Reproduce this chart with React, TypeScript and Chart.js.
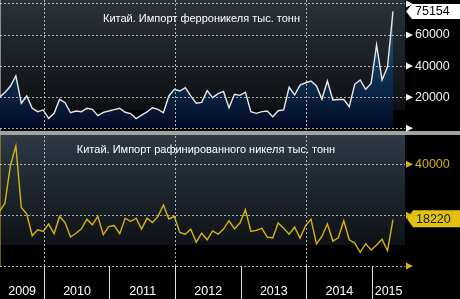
import React, { useEffect, useRef } from 'react';
import { Chart, registerables } from 'chart.js';

Chart.register(...registerables);

const FONT = '"Liberation Sans", Arial, sans-serif';

// ---- data ----
const firstMonth = '2009-04';
const years = ['2009', '2010', '2011', '2012', '2013', '2014', '2015'];
const ferroTitle = 'Китай. Импорт ферроникеля тыс. тонн';
const refinedTitle = 'Китай. Импорт рафинированного никеля тыс. тонн';

const ferroNickel = [
  20000, 23000, 27000, 33800, 16100, 20800, 12900, 10700, 11800,
  6400, 9600, 18600, 16500, 10000, 11100, 10700, 12900, 12200, 8100, 10300, 11100,
  12000, 12900, 10300, 9500, 6300, 8500, 10500, 13200, 12200, 10000, 20800, 25100,
  24000, 26100, 20800, 16100, 16700, 24200, 19700, 22300, 23700, 13200, 21900, 21200,
  23200, 10700, 9600, 10700, 11100, 7500, 11300, 11800, 26400, 21400, 27800, 29300,
  30400, 27200, 18800, 30400, 18200, 18500, 18500, 13900, 28300, 31100, 25100, 28900,
  53600, 31100, 39600, 75154,
];

const refinedNickel = [
  21400, 24700, 39500, 47200, 23000, 20400, 11900, 14200, 13600,
  16500, 12700, 19500, 17100, 11400, 12900, 14600, 18400, 16200, 19500, 12300, 15500,
  15900, 12700, 18800, 17500, 18800, 14500, 18800, 17100, 19500, 24000, 18500, 19500,
  13200, 12500, 14500, 9400, 12900, 10300, 13800, 12500, 14500, 17800, 14600, 16900,
  22100, 13600, 14000, 14800, 11400, 11000, 16900, 14900, 12500, 15300, 11000, 15800,
  18400, 8700, 11600, 16500, 9800, 11100, 17800, 10300, 9000, 5400, 8700, 6300,
  8300, 10500, 6000, 18220,
];

const ferroTicks = [0, 10000, 20000, 30000, 40000, 50000, 60000, 70000, 80000];
const ferroLabelled = [20000, 40000, 60000];
const ferroMajor = [0, 20000, 40000, 60000, 80000];
const refinedTicks = [0, 10000, 20000, 30000, 40000, 50000];
const refinedLabelled = [40000];
const refinedMajor = [0, 20000, 40000];
const dashedYears = ['2010', '2012', '2014'];

// view window in months since Jan 2009
const viewStart = 3.9;
const viewEnd = 78;
const PLOT_DAY = 25; // monthly values are plotted on the 25th

const [startYear, startMonth] = firstMonth.split('-').map(Number);
const monthT = (i: number) => (startYear - 2009) * 12 + (startMonth - 1) + i + (PLOT_DAY - 1) / 30;
const yearT = (y: string) => (Number(y) - 2009) * 12;

const boundaries = years.slice(1).map(yearT);
const dashedT = dashedYears.map(yearT);
const centreLabels = new Map<number, string>();
years.forEach((y) => {
  const s = Math.max(yearT(y), viewStart);
  const e = Math.min(yearT(y) + 12, viewEnd);
  centreLabels.set((s + e) / 2, y);
});

const GRID = 'rgba(205,205,205,0.85)';
const WHITE = '#f2f2f2';
const YELLOW = '#d6b212';

const noPad = (s: any) => {
  s.paddingTop = 0;
  s.paddingBottom = 0;
  s.paddingLeft = 0;
  s.paddingRight = 0;
};

function drawBox(ctx: CanvasRenderingContext2D, x: number, y: number, h: number, fill: string, color: string, text: string, w: number) {
  ctx.beginPath();
  ctx.moveTo(x, y);
  ctx.lineTo(x + 6, y - h / 2);
  ctx.lineTo(w, y - h / 2);
  ctx.lineTo(w, y + h / 2);
  ctx.lineTo(x + 6, y + h / 2);
  ctx.closePath();
  ctx.fillStyle = fill;
  ctx.fill();
  ctx.fillStyle = color;
  ctx.font = `12.5px ${FONT}`;
  ctx.textAlign = 'left';
  ctx.textBaseline = 'middle';
  ctx.fillText(text, x + 9, y + 0.5);
}

const panelPlugin = {
  id: 'panels',
  beforeDraw(chart: any) {
    const { ctx, width, height, chartArea } = chart;
    const yt = chart.scales.yTop;
    const yb = chart.scales.yBottom;
    ctx.save();
    ctx.fillStyle = '#000';
    ctx.fillRect(0, 0, width, height);
    const w = chartArea.right - chartArea.left;
    const g1 = ctx.createLinearGradient(0, yt.top, 0, yt.top + 110);
    g1.addColorStop(0, '#2b3239');
    g1.addColorStop(1, '#0d1013');
    ctx.fillStyle = g1;
    ctx.fillRect(chartArea.left, yt.top, w, 110);
    const g2 = ctx.createLinearGradient(0, yb.top, 0, yb.top + 112);
    g2.addColorStop(0, '#2e3a46');
    g2.addColorStop(1, '#0e1216');
    ctx.fillStyle = g2;
    ctx.fillRect(chartArea.left, yb.top, w, 112);
    ctx.restore();
  },
  afterDraw(chart: any) {
    const { ctx, width, chartArea } = chart;
    const yt = chart.scales.yTop;
    const yb = chart.scales.yBottom;
    ctx.save();
    // separator band
    ctx.fillStyle = '#a3a3a3';
    ctx.fillRect(0, yt.bottom - 2, width, 4);
    // titles
    ctx.fillStyle = '#ffffff';
    ctx.font = `11px ${FONT}`;
    ctx.textAlign = 'center';
    ctx.textBaseline = 'middle';
    const cx = (chartArea.left + chartArea.right) / 2;
    ctx.fillText(ferroTitle, cx - 1, yt.top + 19);
    ctx.fillText(refinedTitle, cx + 3.5, yb.top + 17);
    // major tick arrows
    const arrows = (scale: any, vals: number[], color: string) => {
      ctx.fillStyle = color;
      vals.forEach((v) => {
        const y = scale.getPixelForValue(v);
        ctx.beginPath();
        ctx.moveTo(chartArea.right + 1, y - 3.5);
        ctx.lineTo(chartArea.right + 8, y);
        ctx.lineTo(chartArea.right + 1, y + 3.5);
        ctx.closePath();
        ctx.fill();
      });
    };
    arrows(yt, ferroMajor, WHITE);
    arrows(yb, refinedMajor, YELLOW);
    // last value boxes
    const lastF = ferroNickel[ferroNickel.length - 1];
    const lastR = refinedNickel[refinedNickel.length - 1];
    drawBox(ctx, chartArea.right + 1, yt.getPixelForValue(lastF), 15, '#ffffff', '#000000', String(lastF), width);
    drawBox(ctx, chartArea.right + 2, yb.getPixelForValue(lastR) - 1, 17, '#e4c010', '#102008', String(lastR), width);
    ctx.restore();
  },
};

export default function App() {
  const ref = useRef<HTMLCanvasElement | null>(null);
  useEffect(() => {
    if (!ref.current) return;
    const chart = new Chart(ref.current, {
      type: 'line',
      data: {
        datasets: [
          {
            data: ferroNickel.map((v, i) => ({ x: monthT(i), y: v })),
            yAxisID: 'yTop',
            borderColor: '#e8e8e8',
            borderWidth: 1.4,
            pointRadius: 0,
            tension: 0,
            fill: 'origin',
            backgroundColor: (c: any) => {
              const s = c.chart.scales.yTop;
              if (!s) return '#0a2a48';
              const y1 = s.getPixelForValue(80000);
              const y2 = s.getPixelForValue(0);
              if (!Number.isFinite(y1) || !Number.isFinite(y2) || y1 === y2) return '#0a2a48';
              const g = c.chart.ctx.createLinearGradient(0, y1, 0, y2);
              g.addColorStop(0, '#2a6d95');
              g.addColorStop(0.5, '#10395a');
              g.addColorStop(1, '#020a25');
              return g;
            },
          },
          {
            data: refinedNickel.map((v, i) => ({ x: monthT(i), y: v })),
            yAxisID: 'yBottom',
            borderColor: YELLOW,
            borderWidth: 1.4,
            pointRadius: 0,
            tension: 0,
            fill: false,
          },
        ],
      },
      options: {
        animation: false,
        responsive: false,
        layout: { padding: 0 },
        plugins: { legend: { display: false }, tooltip: { enabled: false } },
        scales: {
          x: {
            type: 'linear',
            min: viewStart,
            max: viewEnd,
            afterBuildTicks: (s: any) => {
              const vals = [...boundaries, ...centreLabels.keys()].sort((a, b) => a - b);
              s.ticks = vals.map((v) => ({ value: v }));
            },
            afterFit: (s: any) => {
              s.height = 33;
              noPad(s);
            },
            ticks: {
              autoSkip: false,
              maxRotation: 0,
              color: '#ffffff',
              font: { family: FONT, size: 12.5 },
              padding: -14.5,
              callback: (v: any) => centreLabels.get(Number(v)) || '',
            },
            grid: {
              z: 1,
              color: (c: any) => (c.tick && dashedT.includes(c.tick.value) ? GRID : 'transparent'),
              tickColor: (c: any) => (c.tick && boundaries.includes(c.tick.value) ? '#e0e0e0' : 'transparent'),
              tickLength: 33,
            },
            border: { display: false, dash: [2, 2] },
          },
          yTop: {
            type: 'linear',
            position: 'right',
            stack: 'panels',
            stackWeight: 1,
            min: -3020,
            max: 82510,
            afterBuildTicks: (s: any) => {
              s.ticks = ferroTicks.map((v) => ({ value: v }));
            },
            afterFit: (s: any) => {
              s.width = 55;
              noPad(s);
            },
            ticks: {
              color: WHITE,
              font: { family: FONT, size: 12.5 },
              padding: 4,
              callback: (v: any) => (ferroLabelled.includes(Number(v)) ? String(v) : ''),
            },
            grid: {
              z: 1,
              color: (c: any) => (c.tick && ferroMajor.includes(c.tick.value) ? GRID : 'transparent'),
              tickColor: WHITE,
              tickLength: 6,
            },
            border: { display: true, color: WHITE, dash: [2, 2] },
          },
          yBottom: {
            type: 'linear',
            position: 'right',
            stack: 'panels',
            stackWeight: 1,
            min: 0,
            max: 52310,
            afterBuildTicks: (s: any) => {
              s.ticks = refinedTicks.map((v) => ({ value: v }));
            },
            afterFit: (s: any) => {
              s.width = 55;
              noPad(s);
            },
            ticks: {
              color: YELLOW,
              font: { family: FONT, size: 12.5 },
              padding: 4,
              callback: (v: any) => (refinedLabelled.includes(Number(v)) ? String(v) : ''),
            },
            grid: {
              z: 1,
              color: (c: any) => (c.tick && refinedMajor.includes(c.tick.value) ? GRID : 'transparent'),
              tickColor: YELLOW,
              tickLength: 6,
            },
            border: { display: true, color: YELLOW, dash: [2, 2] },
          },
        },
      } as any,
      plugins: [panelPlugin],
    });
    return () => chart.destroy();
  }, []);

  return (
    <div style={{ position: 'absolute', left: 0, top: 0, width: 460, height: 299, background: '#000' }}>
      <canvas ref={ref} width={460} height={299} style={{ display: 'block' }} />
    </div>
  );
}
